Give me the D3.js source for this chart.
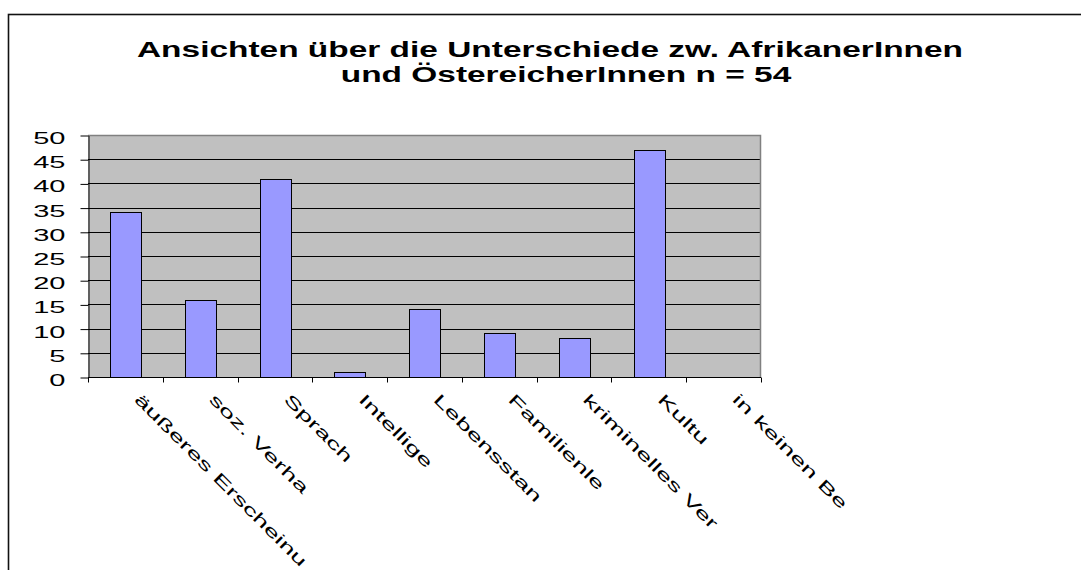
<!DOCTYPE html>
<html>
<head>
<meta charset="utf-8">
<script src="https://cdn.jsdelivr.net/npm/d3@7"></script>
<style>
    body { margin: 0; background: #fff; }
    svg { display: block; }
    text { font-family: "Liberation Sans", Arial, sans-serif; fill: #000; }
</style>
</head>
<body>
<svg id="chart" width="1081" height="570"></svg>
<script>

// category labels, cut off the way the original shows them
let categories = [
    'äußeres Erscheinu', 'soz. Verha', 'Sprach', 'Intellige',
    'Lebensstan', 'Familienle', 'kriminelles Ver', 'Kultu', 'in keinen Be'
];

// number of answers per category
let counts = [34, 16, 41, 1, 14, 9, 8, 47, 0];

let yTicks = [0, 5, 10, 15, 20, 25, 30, 35, 40, 45, 50];

let titleLines = [
    'Ansichten über die Unterschiede zw. AfrikanerInnen',
    'und ÖstereicherInnen n = 54'
];

// the original renders every text stretched wide along its baseline
let labelStretch = 1.76;
let titleStretch = 1.52;

let plot = { left: 88, right: 761, top: 135, bottom: 377 };

let svg = d3.select('#chart');

// outer chart frame, right and bottom edges run off the picture
svg.append('rect')
    .attr('x', 8.5).attr('y', 14.5)
    .attr('width', 1200).attr('height', 700)
    .attr('fill', 'none')
    .attr('stroke', '#111')
    .attr('stroke-width', 1.6);

// title
svg.append('g')
    .selectAll('text')
    .data(titleLines)
    .join('text')
        .attr('text-anchor', 'middle')
        .attr('font-weight', 'bold')
        .attr('font-size', 22)
        .attr('transform', (d, i) =>
            `translate(${i ? 566 : 550},${57 + i * 25}) scale(${titleStretch},1)`)
        .text(d => d);

let x = d3.scaleBand()
    .domain(categories)
    .range([plot.left, plot.right]);

let y = d3.scaleLinear()
    .domain([0, 50])
    .range([plot.bottom, plot.top]);

// plot area
svg.append('rect')
    .attr('x', plot.left).attr('y', plot.top)
    .attr('width', plot.right - plot.left)
    .attr('height', plot.bottom - plot.top)
    .attr('fill', '#c0c0c0');

// grid lines
svg.append('g')
    .selectAll('line')
    .data(yTicks.filter(d => d > 0 && d < 50))
    .join('line')
        .attr('x1', plot.left).attr('x2', plot.right)
        .attr('y1', d => Math.round(y(d)) + 0.5)
        .attr('y2', d => Math.round(y(d)) + 0.5)
        .attr('stroke', '#000');

// top and right border of the plot
svg.append('path')
    .attr('d', `M${plot.left},${plot.top + 0.5}H${plot.right - 0.5}V${plot.bottom}`)
    .attr('fill', 'none')
    .attr('stroke', '#808080')
    .attr('stroke-width', 1.5);

// bars
let barWidth = x.bandwidth() * 0.41;
svg.append('g')
    .selectAll('rect')
    .data(counts.map((v, i) => ({ cat: categories[i], v })))
    .join('rect')
        .attr('x', d => Math.round(x(d.cat) + (x.bandwidth() - barWidth) / 2) + 0.5)
        .attr('y', d => Math.round(y(d.v)) + 0.5)
        .attr('width', Math.round(barWidth))
        .attr('height', d => Math.round(y(0)) - Math.round(y(d.v)))
        .attr('fill', '#9999ff')
        .attr('stroke', '#000')
        .attr('stroke-width', 1);

// y axis
let yAxis = d3.axisLeft(y)
    .tickValues(yTicks)
    .tickSize(8)
    .tickSizeOuter(0);

let gy = svg.append('g')
    .attr('transform', `translate(${plot.left + 0.5},0.5)`)
    .call(yAxis);

gy.select('.domain').attr('stroke', '#000');
gy.selectAll('.tick line').attr('stroke', '#000');
gy.selectAll('.tick text')
    .attr('x', null).attr('dy', null)
    .attr('font-size', 16.5)
    .attr('font-family', '"Liberation Sans", Arial, sans-serif')
    .attr('text-anchor', 'end')
    .attr('transform', `translate(-23,8) scale(${labelStretch},1)`);

// x axis: ticks sit on the category borders
let gx = svg.append('g')
    .attr('transform', `translate(0,${plot.bottom + 0.5})`);

gx.append('line')
    .attr('x1', plot.left).attr('x2', plot.right)
    .attr('stroke', '#000');

gx.selectAll('line.tick')
    .data(categories.map(d => x(d)).concat([plot.right]))
    .join('line')
        .attr('class', 'tick')
        .attr('x1', d => Math.round(d) + 0.5)
        .attr('x2', d => Math.round(d) + 0.5)
        .attr('y1', 0).attr('y2', 5)
        .attr('stroke', '#000');

// slanted category labels
gx.selectAll('text')
    .data(categories)
    .join('text')
        .attr('font-size', 16)
        .attr('transform', d =>
            `translate(${x(d) + x.bandwidth() / 2 + 8},${400 - plot.bottom}) rotate(45) scale(${labelStretch},1)`)
        .text(d => d);

</script>
</body>
</html>
